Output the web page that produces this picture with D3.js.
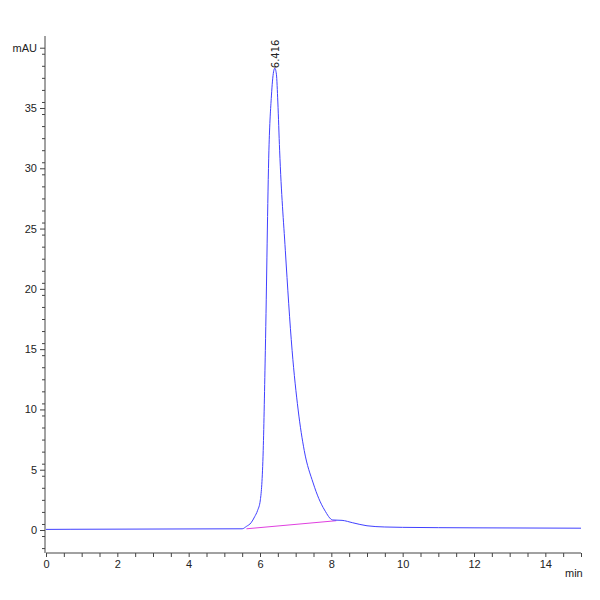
<!DOCTYPE html>
<html><head><script src="https://cdn.jsdelivr.net/npm/d3@7"></script>
<style>body{margin:0;background:#fff}</style></head><body>
<svg id="c" width="600" height="600"></svg>
<script>
const times  = [0,0.7,3,5.5,5.62,5.75,5.85,5.93,6.01,6.09,6.15,6.25,6.32,6.38,6.416,6.46,6.5,6.55,6.71,6.9,7.07,7.24,7.49,7.65,7.81,8.04,8.3,8.6,9.0,9.5,10,12,15];
const signal = [0.05,0.06,0.08,0.1,0.3,0.6,1.1,1.6,2.5,6.6,14.9,31.5,36.0,38.0,38.3,37.8,35.5,31.5,23.2,14.9,9.95,6.6,3.9,2.6,1.66,0.83,0.8,0.6,0.35,0.25,0.22,0.18,0.15];
const baseT = [5.62,8.14];
const baseV = [0.1,0.77];
const peakT = 6.416, peakV = 38.3, peakLabel = "6.416";
const xTicks = [0,2,4,6,8,10,12,14];
const yTicks = [0,5,10,15,20,25,30,35];

const svg = d3.select("#c");
const x = d3.scaleLinear().domain([0,15]).range([46,581]);
const y = d3.scaleLinear().domain([0,35]).range([530,108]);
const yTop = y.invert(36);
const f = "Liberation Sans Narrow, Arial Narrow, sans-serif";

const xa = svg.append("g").attr("transform","translate(0,553)")
 .call(d3.axisBottom(x).tickValues(d3.range(0,15.01,0.5)).tickSize(4).tickFormat(d=>xTicks.includes(d)?d:""));
xa.select(".domain").attr("d","M46,0H581");
const ya = svg.append("g").attr("transform","translate(45,0)")
 .call(d3.axisLeft(y).tickValues(d3.range(-1.5,40.01,1)).tickSize(3).tickFormat(()=>"")) ;
ya.select(".domain").attr("d",`M0,${y(yTop)}V553`);
svg.append("g").attr("transform","translate(45,0)")
 .call(d3.axisLeft(y).tickValues([...yTicks,40]).tickSize(5).tickFormat(d=>d===40?"mAU":d))
 .select(".domain").remove();
svg.selectAll(".tick text").attr("font-family",f).attr("font-size",11).attr("fill","#222");
svg.selectAll(".tick line,.domain").attr("stroke","#444");

svg.append("path").datum(baseT.map((t,i)=>[t,baseV[i]]))
 .attr("d",d3.line().x(d=>x(d[0])).y(d=>y(d[1]))).attr("stroke","#e040e0").attr("fill","none").attr("stroke-width",1);
svg.append("path").datum(times.map((t,i)=>[t,signal[i]]))
 .attr("d",d3.line().curve(d3.curveMonotoneX).x(d=>x(d[0])).y(d=>y(d[1]))).attr("stroke","#4040ff").attr("fill","none").attr("stroke-width",1);
svg.append("text").attr("transform",`translate(${x(peakT)+4},${y(peakV)}) rotate(-90)`)
 .attr("font-family","DejaVu Sans, sans-serif").attr("font-size",10).attr("fill","#222").text(peakLabel);
svg.append("text").attr("x",565).attr("y",577).attr("font-family",f).attr("font-size",11).attr("fill","#222").text("min");
</script></body></html>
